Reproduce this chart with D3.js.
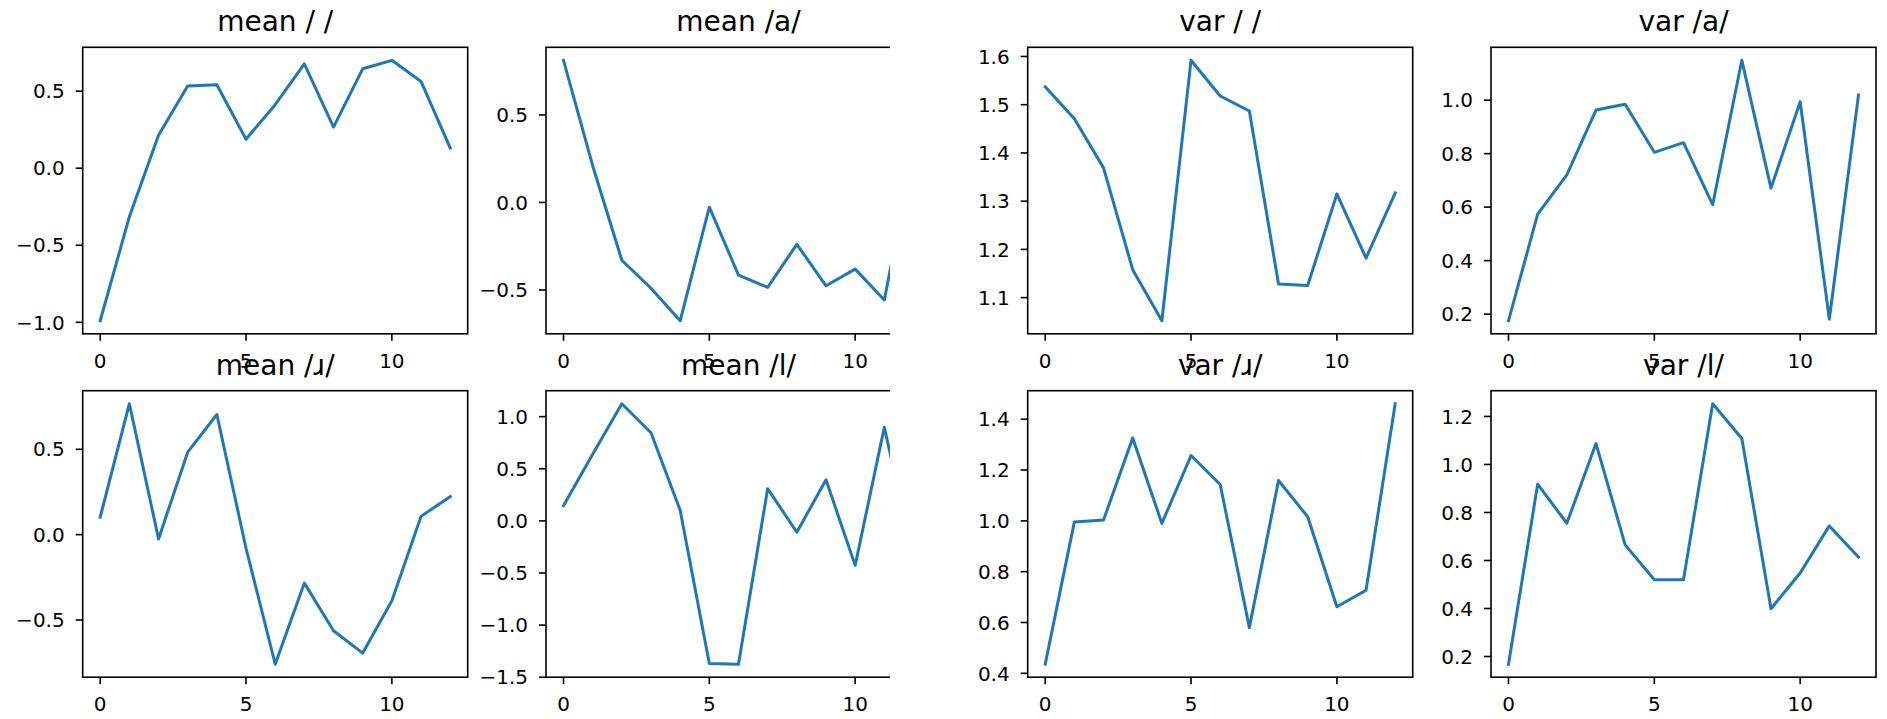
<!DOCTYPE html>
<html>
<head>
<meta charset="utf-8">
<script src="https://cdn.jsdelivr.net/npm/d3@7"></script>
<style>
  body { margin: 0; background: #fff; }
  svg { display: block; font-family: "DejaVu Sans", sans-serif; }
</style>
</head>
<body>
<svg id="drawing_region"></svg>
<script>
// frame index on the x axis
const frames = [0, 1, 2, 3, 4, 5, 6, 7, 8, 9, 10, 11, 12];
const xTicks = [0, 5, 10];

const meanBlank = [-0.99, -0.315, 0.214, 0.533, 0.541, 0.188, 0.412, 0.677, 0.267, 0.645, 0.70, 0.563, 0.131];
const meanA     = [0.812, 0.21, -0.33, -0.49, -0.676, -0.027, -0.415, -0.485, -0.239, -0.476, -0.381, -0.557, 0.30];
const meanR     = [0.102, 0.767, -0.025, 0.483, 0.704, -0.08, -0.759, -0.284, -0.563, -0.694, -0.387, 0.107, 0.223];
const meanL     = [0.146, 0.64, 1.124, 0.846, 0.102, -1.369, -1.375, 0.309, -0.109, 0.394, -0.427, 0.898, -0.35];
const varBlank  = [1.537, 1.471, 1.369, 1.158, 1.052, 1.592, 1.518, 1.487, 1.128, 1.125, 1.315, 1.182, 1.317];
const varA      = [0.175, 0.574, 0.721, 0.963, 0.985, 0.805, 0.841, 0.609, 1.149, 0.671, 0.994, 0.181, 1.019];
const varR      = [0.436, 0.996, 1.003, 1.326, 0.99, 1.257, 1.143, 0.58, 1.159, 1.016, 0.662, 0.727, 1.461];
const varL      = [0.168, 0.918, 0.755, 1.087, 0.665, 0.52, 0.52, 1.253, 1.108, 0.399, 0.548, 0.744, 0.614];

const titles = ["mean / /", "mean /a/", "var / /", "var /a/",
                "mean /ɹ/", "mean /l/", "var /ɹ/", "var /l/"];

const yTicksMeanBlank = [-1.0, -0.5, 0.0, 0.5];
const yTicksMeanA     = [-0.5, 0.0, 0.5];
const yTicksVarBlank  = [1.1, 1.2, 1.3, 1.4, 1.5, 1.6];
const yTicksVarA      = [0.2, 0.4, 0.6, 0.8, 1.0];
const yTicksMeanR     = [-0.5, 0.0, 0.5];
const yTicksMeanL     = [-1.5, -1.0, -0.5, 0.0, 0.5, 1.0];
const yTicksVarR      = [0.4, 0.6, 0.8, 1.0, 1.2, 1.4];
const yTicksVarL      = [0.2, 0.4, 0.6, 0.8, 1.0, 1.2];

const W = 1887, H = 719;
const colLeft = [82.7, 546, 1027.7, 1491];
const rowTop = [47.3, 390.7];
const panelW = 385, panelH = 286.5;
const meanClip = 890;   // the left (mean) half is cut off here

const svg = d3.select('#drawing_region')
    .attr('width', W)
    .attr('height', H);

svg.append('defs').append('clipPath')
    .attr('id', 'meanCut')
    .append('rect')
    .attr('x', 0).attr('y', 0)
    .attr('width', meanClip).attr('height', H);

const meanGroup = svg.append('g').attr('clip-path', 'url(#meanCut)');
const varGroup = svg.append('g');

class LinePanel {
    constructor( config, data ) {
        this.config = config;
        this.data = data;
        this.init();
    }

    init() {
        let self = this;
        const c = self.config;

        self.g = c.parent.append('g')
            .attr('transform', `translate(${c.left}, ${c.top})`);

        self.xscale = d3.scaleLinear()
            .domain([-0.6, 12.6])
            .range([0, c.width]);

        const ext = d3.extent(self.data);
        const pad = (ext[1] - ext[0]) * 0.05;
        self.yscale = d3.scaleLinear()
            .domain([ext[0] - pad, ext[1] + pad])
            .range([c.height, 0]);

        self.line = d3.line()
            .x((d, i) => self.xscale(frames[i]))
            .y(d => self.yscale(d));
    }

    render() {
        let self = this;
        const c = self.config;
        const fmt = d3.format('.1f');

        self.g.append('path')
            .datum(self.data)
            .attr('d', self.line)
            .attr('fill', 'none')
            .attr('stroke', '#1f77b4')
            .attr('stroke-width', 3)
            .attr('stroke-linejoin', 'round')
            .attr('stroke-linecap', 'square');

        self.g.append('rect')
            .attr('width', c.width)
            .attr('height', c.height)
            .attr('fill', 'none')
            .attr('stroke', '#000')
            .attr('stroke-width', 1.6);

        const xt = self.g.selectAll('.xt')
            .data(xTicks)
            .enter()
            .append('g')
            .attr('transform', d => `translate(${self.xscale(d)}, ${c.height})`);
        xt.append('line')
            .attr('y2', 7)
            .attr('stroke', '#000')
            .attr('stroke-width', 1.6);
        xt.append('text')
            .attr('y', 34)
            .attr('text-anchor', 'middle')
            .attr('font-size', 20)
            .attr('fill', '#000')
            .text(d => d);

        const yt = self.g.selectAll('.yt')
            .data(c.yTicks)
            .enter()
            .append('g')
            .attr('transform', d => `translate(0, ${self.yscale(d)})`);
        yt.append('line')
            .attr('x2', -7)
            .attr('stroke', '#000')
            .attr('stroke-width', 1.6);
        yt.append('text')
            .attr('x', -18)
            .attr('dy', '0.36em')
            .attr('text-anchor', 'end')
            .attr('font-size', 20)
            .attr('fill', '#000')
            .text(d => fmt(d));

        self.g.append('text')
            .attr('x', c.width / 2)
            .attr('y', -16)
            .attr('text-anchor', 'middle')
            .attr('font-size', 28)
            .attr('fill', '#000')
            .text(c.title);
    }
}

const series = [meanBlank, meanA, varBlank, varA, meanR, meanL, varR, varL];
const yTicksAll = [yTicksMeanBlank, yTicksMeanA, yTicksVarBlank, yTicksVarA,
                   yTicksMeanR, yTicksMeanL, yTicksVarR, yTicksVarL];

series.forEach( (s, i) => {
    const col = i % 4, row = Math.floor(i / 4);
    const panel = new LinePanel({
        parent: col < 2 ? meanGroup : varGroup,
        left: colLeft[col],
        top: rowTop[row],
        width: panelW,
        height: panelH,
        title: titles[i],
        yTicks: yTicksAll[i]
    }, s);
    panel.render();
});
</script>
</body>
</html>
